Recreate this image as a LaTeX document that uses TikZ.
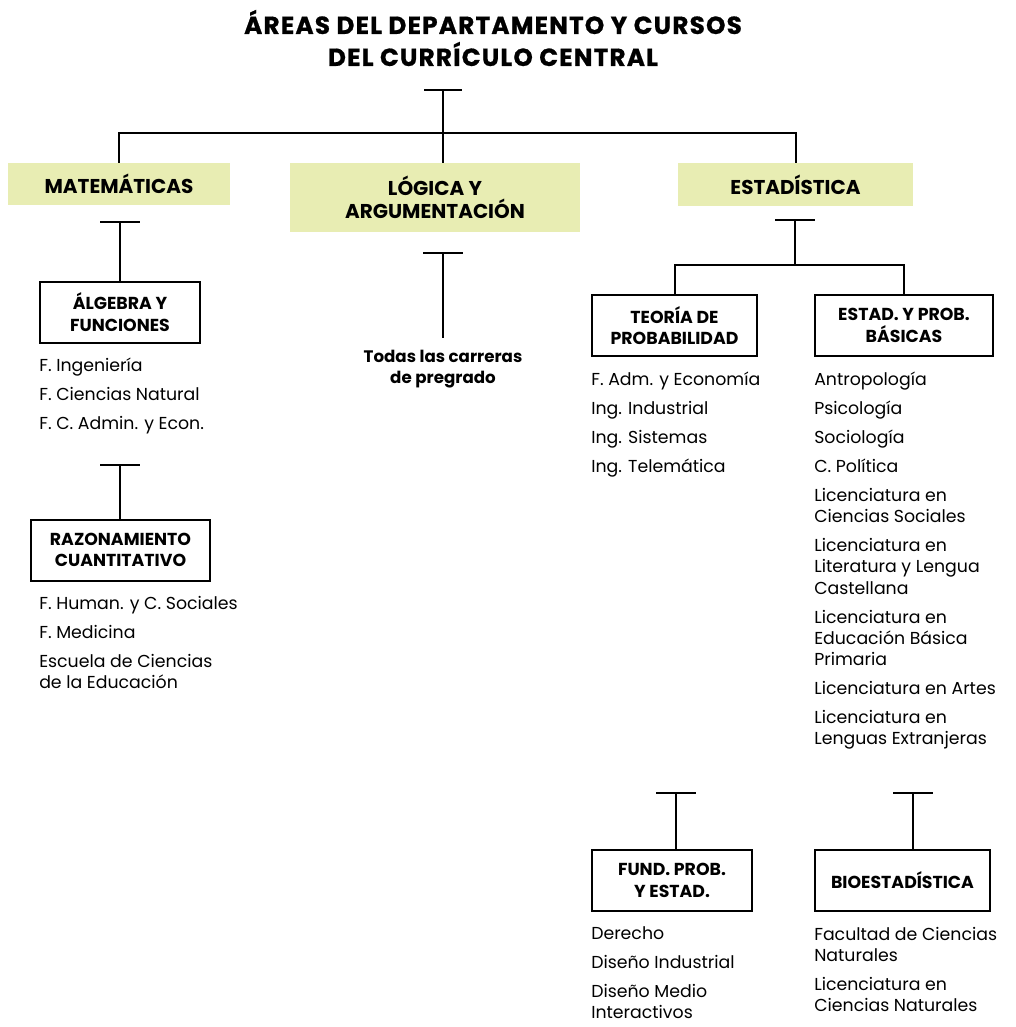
\documentclass[tikz,border=0pt]{standalone}
\usepackage{fontspec}
\setmainfont{Poppins}
\usetikzlibrary{positioning}
\definecolor{areagreen}{HTML}{E8EDB3}
\newcommand{\itemgap}{\\[5.7pt]}
\tikzset{
  area/.style={rectangle, fill=areagreen, align=center, inner sep=0pt, font=\bfseries\fontsize{15}{17.5}\selectfont},
  curso/.style={rectangle, draw=black, line width=1.5pt, fill=white, align=center, inner sep=0pt, minimum height=45.75pt, font=\bfseries\fontsize{13}{16}\selectfont},
  lista/.style={align=left, inner sep=0pt, font=\fontsize{13}{16}\selectfont},
  link/.style={line width=1.5pt},
}
\begin{document}
\begin{tikzpicture}[x=0.75pt, y=-0.75pt]
  \useasboundingbox (0,0) rectangle (1016,1027);
  \node[align=center, font=\bfseries\fontsize{18.5}{24}\selectfont\addfontfeatures{LetterSpace=5,FakeBold=0.8}] (title) at (493,38) {ÁREAS DEL DEPARTAMENTO Y CURSOS\\DEL CURRÍCULO CENTRAL};
  % areas
  \node[area, minimum width=166.5pt, minimum height=31.5pt] (mat) at (119,184) {MATEMÁTICAS};
  \node[area, minimum width=217.5pt, minimum height=51.75pt] (log) at (435,197.5) {LÓGICA Y\\ARGUMENTACIÓN};
  \node[area, minimum width=176.25pt, minimum height=32.25pt] (est) at (795.5,184.5) {ESTADÍSTICA};
  \coordinate (ttop) at (443,90);
  \coordinate (hub) at (443,133);
  \draw[link] ([xshift=-14pt]ttop) -- ([xshift=14pt]ttop);
  \draw[link] (ttop) -- (ttop |- log.north);
  \draw[link] (mat.north) |- (hub) -| (est.north);
  % matematicas
  \coordinate (tmat) at (120,222);
  \node[curso, minimum width=120pt] (alg) at (120,312) {ÁLGEBRA Y\\FUNCIONES};
  \node[lista, below=11pt of alg.south west, anchor=north west] (algl) {F. Ingeniería\itemgap F. Ciencias Natural\itemgap F. C. Admin. y Econ.};
  \coordinate (talg) at (120,465);
  \node[curso, minimum width=134.25pt] (raz) at (120.5,550) {RAZONAMIENTO\\CUANTITATIVO};
  \node[lista, below=11pt of raz.south west, anchor=north west, xshift=6.75pt] (razl) {F. Human. y C. Sociales\itemgap F. Medicina\itemgap Escuela de Ciencias\\de la Educación};
  \draw[link] ([xshift=-15pt]tmat) -- ([xshift=15pt]tmat);
  \draw[link] (tmat) -- (alg.north);
  \draw[link] ([xshift=-15pt]talg) -- ([xshift=15pt]talg);
  \draw[link] (talg) -- (talg |- raz.north);
  % logica
  \coordinate (tlog) at (443,253);
  \coordinate (tlogend) at (443,338);
  \node[align=center, inner sep=0pt, font=\bfseries\fontsize{12.5}{16}\selectfont, below=9pt of tlogend] (todas) {Todas las carreras\\de pregrado};
  \draw[link] ([xshift=-15pt]tlog) -- ([xshift=15pt]tlog);
  \draw[link] (tlog) -- (tlogend);
  % estadistica
  \coordinate (test) at (795,220);
  \coordinate (split) at (795,265);
  \node[curso, minimum width=123.75pt] (teo) at (674.5,325.5) {TEORÍA DE\\PROBABILIDAD};
  \node[curso, minimum width=133.5pt] (eba) at (904,325.5) {ESTAD. Y PROB.\\BÁSICAS};
  \draw[link] ([xshift=-15pt]test) -- ([xshift=15pt]test);
  \draw[link] (test) -- (split);
  \draw[link] (teo.north) |- (split) -| (eba.north);
  \node[lista, below=11pt of teo.south west, anchor=north west] (teol) {F. Adm. y Economía\itemgap Ing. Industrial\itemgap Ing. Sistemas\itemgap Ing. Telemática};
  \node[lista, below=11pt of eba.south west, anchor=north west] (ebal) {Antropología\itemgap Psicología\itemgap Sociología\itemgap C. Política\itemgap Licenciatura en\\Ciencias Sociales\itemgap Licenciatura en\\Literatura y Lengua\\Castellana\itemgap Licenciatura en\\Educación Básica\\Primaria\itemgap Licenciatura en Artes\itemgap Licenciatura en\\Lenguas Extranjeras};
  \coordinate (tteo) at (676,793);
  \coordinate (teba) at (913,793);
  \node[curso, minimum width=120pt] (fund) at (672,880.5) {FUND. PROB.\\Y ESTAD.};
  \node[curso, minimum width=131.25pt] (bio) at (902.5,880.5) {BIOESTADÍSTICA};
  \draw[link] ([xshift=-15pt]tteo) -- ([xshift=15pt]tteo);
  \draw[link] (tteo) -- (tteo |- fund.north);
  \draw[link] ([xshift=-15pt]teba) -- ([xshift=15pt]teba);
  \draw[link] (teba) -- (teba |- bio.north);
  \node[lista, below=11pt of fund.south west, anchor=north west] (fundl) {Derecho\itemgap Diseño Industrial\itemgap Diseño Medio\\Interactivos};
  \node[lista, below=11pt of bio.south west, anchor=north west] (biol) {Facultad de Ciencias\\Naturales\itemgap Licenciatura en\\Ciencias Naturales};
\end{tikzpicture}
\end{document}
